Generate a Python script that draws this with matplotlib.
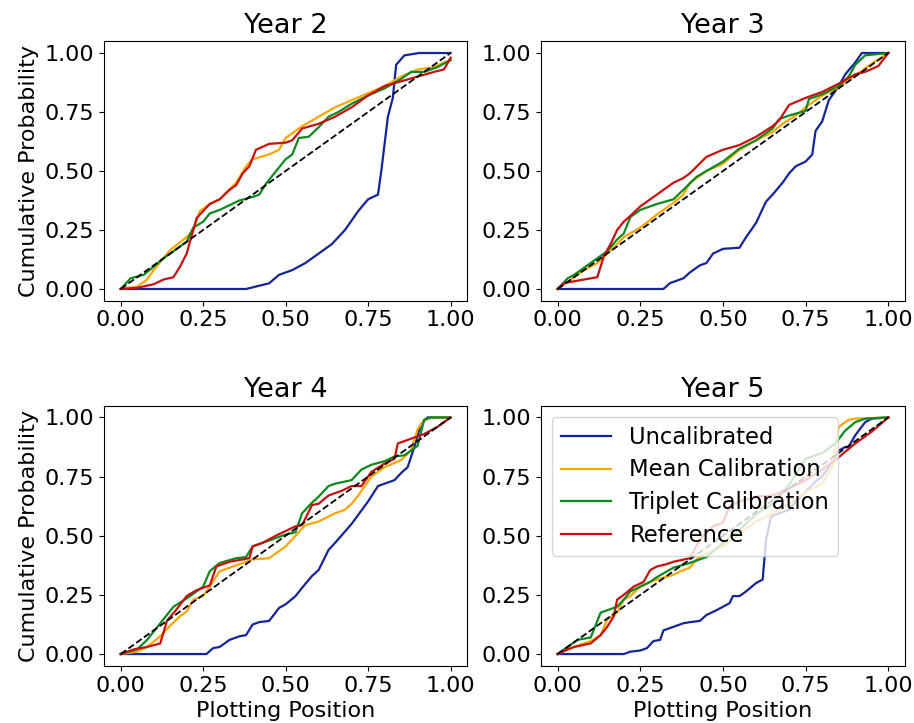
import matplotlib.pyplot as plt

plt.rcParams['font.family'] = ['DejaVu Sans']

# colours of the four curves
c_unc = '#14249a'
c_mean = '#ffa500'
c_trip = '#0a8a1e'
c_ref = '#c81010'

years = ['Year 2', 'Year 3', 'Year 4', 'Year 5']
series_names = ['Uncalibrated', 'Mean Calibration', 'Triplet Calibration', 'Reference']

# ---------------- Year 2 ----------------
y2_unc_x = [0, 0.38, 0.45, 0.48, 0.52, 0.56, 0.60, 0.64, 0.68, 0.72, 0.75, 0.78, 0.79, 0.81, 0.825, 0.835, 0.86, 0.905, 1.0]
y2_unc_y = [0, 0, 0.024, 0.06, 0.08, 0.11, 0.15, 0.19, 0.25, 0.33, 0.38, 0.40, 0.50, 0.73, 0.81, 0.95, 0.99, 1.0, 1.0]
y2_mean_x = [0, 0.05, 0.08, 0.10, 0.15, 0.20, 0.22, 0.24, 0.27, 0.30, 0.35, 0.38, 0.40, 0.45, 0.48, 0.50, 0.55, 0.60, 0.65, 0.70, 0.75, 0.80, 0.85, 0.90, 0.95, 0.98, 1.0]
y2_mean_y = [0, 0.01, 0.04, 0.08, 0.165, 0.22, 0.25, 0.33, 0.36, 0.38, 0.45, 0.52, 0.55, 0.57, 0.59, 0.64, 0.69, 0.73, 0.77, 0.80, 0.83, 0.86, 0.90, 0.93, 0.94, 0.96, 0.97]
y2_trip_x = [0, 0.03, 0.07, 0.10, 0.13, 0.16, 0.20, 0.22, 0.25, 0.27, 0.30, 0.33, 0.36, 0.40, 0.42, 0.44, 0.46, 0.50, 0.52, 0.54, 0.57, 0.60, 0.63, 0.66, 0.70, 0.75, 0.80, 0.85, 0.88, 0.92, 0.96, 1.0]
y2_trip_y = [0, 0.045, 0.06, 0.095, 0.13, 0.16, 0.20, 0.26, 0.285, 0.32, 0.335, 0.355, 0.375, 0.39, 0.40, 0.445, 0.48, 0.55, 0.57, 0.64, 0.645, 0.685, 0.73, 0.75, 0.785, 0.82, 0.85, 0.89, 0.92, 0.92, 0.94, 0.97]
y2_ref_x = [0, 0.05, 0.10, 0.13, 0.16, 0.18, 0.20, 0.22, 0.23, 0.25, 0.27, 0.30, 0.33, 0.35, 0.37, 0.39, 0.41, 0.45, 0.50, 0.52, 0.55, 0.60, 0.65, 0.70, 0.75, 0.80, 0.85, 0.90, 0.95, 0.98, 1.0]
y2_ref_y = [0, 0.005, 0.02, 0.04, 0.05, 0.095, 0.15, 0.25, 0.30, 0.33, 0.36, 0.38, 0.42, 0.44, 0.49, 0.52, 0.59, 0.615, 0.62, 0.63, 0.68, 0.70, 0.73, 0.77, 0.82, 0.86, 0.88, 0.90, 0.92, 0.93, 0.98]

# ---------------- Year 3 ----------------
y3_unc_x = [0, 0.32, 0.34, 0.38, 0.40, 0.43, 0.45, 0.47, 0.50, 0.55, 0.57, 0.60, 0.63, 0.65, 0.68, 0.70, 0.72, 0.75, 0.77, 0.78, 0.80, 0.82, 0.85, 0.87, 0.90, 0.92, 1.0]
y3_unc_y = [0, 0, 0.025, 0.045, 0.07, 0.10, 0.11, 0.15, 0.17, 0.175, 0.22, 0.28, 0.37, 0.40, 0.45, 0.49, 0.52, 0.54, 0.57, 0.67, 0.71, 0.80, 0.86, 0.91, 0.96, 1.0, 1.0]
y3_mean_x = [0, 0.03, 0.08, 0.12, 0.15, 0.18, 0.20, 0.25, 0.30, 0.35, 0.38, 0.40, 0.45, 0.50, 0.55, 0.60, 0.65, 0.68, 0.72, 0.75, 0.80, 0.85, 0.90, 0.95, 1.0]
y3_mean_y = [0, 0.03, 0.08, 0.11, 0.15, 0.19, 0.22, 0.26, 0.315, 0.365, 0.40, 0.45, 0.50, 0.53, 0.59, 0.63, 0.665, 0.70, 0.735, 0.77, 0.82, 0.855, 0.905, 0.955, 1.0]
y3_trip_x = [0, 0.03, 0.05, 0.10, 0.15, 0.18, 0.20, 0.22, 0.25, 0.30, 0.35, 0.38, 0.42, 0.45, 0.50, 0.55, 0.60, 0.65, 0.67, 0.70, 0.75, 0.76, 0.80, 0.85, 0.88, 0.90, 0.93, 1.0]
y3_trip_y = [0, 0.045, 0.06, 0.11, 0.16, 0.21, 0.235, 0.305, 0.335, 0.36, 0.38, 0.42, 0.475, 0.50, 0.54, 0.595, 0.63, 0.68, 0.72, 0.735, 0.755, 0.805, 0.825, 0.86, 0.90, 0.95, 0.99, 1.0]
y3_ref_x = [0, 0.02, 0.10, 0.12, 0.14, 0.16, 0.18, 0.20, 0.22, 0.25, 0.30, 0.33, 0.35, 0.38, 0.40, 0.45, 0.50, 0.55, 0.60, 0.65, 0.67, 0.70, 0.75, 0.80, 0.85, 0.90, 0.93, 0.97, 1.0]
y3_ref_y = [0, 0.025, 0.045, 0.05, 0.14, 0.19, 0.25, 0.285, 0.31, 0.35, 0.40, 0.43, 0.45, 0.47, 0.49, 0.56, 0.59, 0.61, 0.645, 0.69, 0.715, 0.78, 0.81, 0.835, 0.87, 0.91, 0.92, 0.945, 1.0]

# ---------------- Year 4 ----------------
y4_unc_x = [0, 0.26, 0.28, 0.30, 0.33, 0.36, 0.38, 0.40, 0.42, 0.45, 0.48, 0.50, 0.53, 0.55, 0.58, 0.60, 0.63, 0.65, 0.70, 0.75, 0.78, 0.80, 0.83, 0.85, 0.87, 0.89, 0.91, 0.93, 1.0]
y4_unc_y = [0, 0, 0.025, 0.03, 0.06, 0.075, 0.08, 0.125, 0.135, 0.14, 0.195, 0.21, 0.245, 0.28, 0.33, 0.355, 0.44, 0.47, 0.55, 0.645, 0.71, 0.72, 0.735, 0.765, 0.79, 0.875, 0.97, 1.0, 1.0]
y4_mean_x = [0, 0.05, 0.08, 0.12, 0.15, 0.18, 0.20, 0.22, 0.25, 0.27, 0.30, 0.35, 0.40, 0.45, 0.48, 0.50, 0.53, 0.56, 0.60, 0.65, 0.68, 0.70, 0.72, 0.74, 0.76, 0.80, 0.85, 0.88, 0.90, 0.92, 0.95, 1.0]
y4_mean_y = [0, 0.01, 0.03, 0.075, 0.12, 0.16, 0.18, 0.23, 0.245, 0.285, 0.35, 0.375, 0.40, 0.405, 0.435, 0.455, 0.50, 0.545, 0.56, 0.595, 0.61, 0.635, 0.67, 0.71, 0.75, 0.79, 0.82, 0.86, 0.95, 0.99, 1.0, 1.0]
y4_trip_x = [0, 0.05, 0.08, 0.12, 0.16, 0.20, 0.25, 0.27, 0.30, 0.35, 0.38, 0.40, 0.45, 0.50, 0.53, 0.55, 0.58, 0.60, 0.63, 0.65, 0.70, 0.73, 0.76, 0.80, 0.83, 0.86, 0.88, 0.90, 0.92, 0.94, 1.0]
y4_trip_y = [0, 0.02, 0.06, 0.13, 0.20, 0.235, 0.285, 0.35, 0.385, 0.405, 0.41, 0.455, 0.48, 0.505, 0.515, 0.595, 0.64, 0.665, 0.71, 0.72, 0.735, 0.78, 0.80, 0.815, 0.835, 0.84, 0.86, 0.88, 0.99, 1.0, 1.0]
y4_ref_x = [0, 0.04, 0.08, 0.12, 0.14, 0.17, 0.20, 0.23, 0.27, 0.29, 0.33, 0.39, 0.40, 0.43, 0.47, 0.50, 0.53, 0.55, 0.58, 0.60, 0.63, 0.67, 0.70, 0.73, 0.76, 0.80, 0.83, 0.84, 0.88, 0.92, 0.96, 1.0]
y4_ref_y = [0, 0.02, 0.03, 0.045, 0.14, 0.19, 0.245, 0.27, 0.29, 0.37, 0.39, 0.405, 0.455, 0.47, 0.50, 0.52, 0.54, 0.545, 0.63, 0.635, 0.67, 0.69, 0.71, 0.71, 0.77, 0.805, 0.825, 0.89, 0.91, 0.93, 0.96, 1.0]

# ---------------- Year 5 ----------------
y5_unc_x = [0, 0.20, 0.22, 0.25, 0.27, 0.29, 0.31, 0.32, 0.35, 0.38, 0.40, 0.43, 0.45, 0.48, 0.50, 0.52, 0.53, 0.55, 0.57, 0.60, 0.62, 0.63, 0.645, 0.66, 0.70, 0.72, 0.75, 0.78, 0.80, 0.82, 0.85, 0.87, 0.88, 0.90, 0.93, 0.95, 1.0]
y5_unc_y = [0, 0, 0.01, 0.015, 0.025, 0.055, 0.06, 0.10, 0.115, 0.13, 0.135, 0.14, 0.165, 0.185, 0.20, 0.215, 0.245, 0.245, 0.265, 0.30, 0.315, 0.48, 0.58, 0.59, 0.61, 0.645, 0.685, 0.73, 0.75, 0.79, 0.86, 0.875, 0.875, 0.925, 0.98, 0.995, 1.0]
y5_mean_x = [0, 0.05, 0.10, 0.13, 0.15, 0.18, 0.20, 0.22, 0.25, 0.28, 0.30, 0.35, 0.38, 0.40, 0.42, 0.45, 0.50, 0.55, 0.60, 0.65, 0.70, 0.75, 0.80, 0.83, 0.85, 0.88, 0.90, 1.0]
y5_mean_y = [0, 0.03, 0.055, 0.08, 0.145, 0.175, 0.23, 0.245, 0.285, 0.305, 0.315, 0.335, 0.355, 0.365, 0.40, 0.425, 0.455, 0.51, 0.56, 0.595, 0.635, 0.685, 0.72, 0.79, 0.96, 0.99, 0.995, 1.0]
y5_trip_x = [0, 0.04, 0.06, 0.10, 0.13, 0.16, 0.18, 0.20, 0.22, 0.25, 0.28, 0.30, 0.35, 0.40, 0.45, 0.50, 0.55, 0.60, 0.65, 0.70, 0.75, 0.80, 0.84, 0.87, 0.90, 0.93, 1.0]
y5_trip_y = [0, 0.04, 0.06, 0.07, 0.175, 0.19, 0.20, 0.23, 0.265, 0.285, 0.305, 0.325, 0.365, 0.385, 0.41, 0.47, 0.525, 0.59, 0.635, 0.715, 0.825, 0.85, 0.89, 0.945, 0.98, 0.995, 1.0]
y5_ref_x = [0, 0.03, 0.05, 0.10, 0.13, 0.15, 0.17, 0.18, 0.20, 0.23, 0.26, 0.28, 0.30, 0.33, 0.35, 0.40, 0.43, 0.47, 0.50, 0.52, 0.55, 0.60, 0.65, 0.70, 0.75, 0.80, 0.84, 0.87, 0.90, 0.95, 1.0]
y5_ref_y = [0, 0.02, 0.03, 0.045, 0.08, 0.115, 0.16, 0.23, 0.25, 0.285, 0.305, 0.355, 0.37, 0.38, 0.39, 0.405, 0.485, 0.54, 0.555, 0.625, 0.645, 0.665, 0.67, 0.70, 0.735, 0.78, 0.82, 0.855, 0.89, 0.94, 1.0]

panels = [
    [(y2_unc_x, y2_unc_y), (y2_mean_x, y2_mean_y), (y2_trip_x, y2_trip_y), (y2_ref_x, y2_ref_y)],
    [(y3_unc_x, y3_unc_y), (y3_mean_x, y3_mean_y), (y3_trip_x, y3_trip_y), (y3_ref_x, y3_ref_y)],
    [(y4_unc_x, y4_unc_y), (y4_mean_x, y4_mean_y), (y4_trip_x, y4_trip_y), (y4_ref_x, y4_ref_y)],
    [(y5_unc_x, y5_unc_y), (y5_mean_x, y5_mean_y), (y5_trip_x, y5_trip_y), (y5_ref_x, y5_ref_y)],
]
colors = [c_unc, c_mean, c_trip, c_ref]

fig = plt.figure(figsize=(9.14, 7.23), dpi=100)

# axes rectangles (left, bottom, width, height)
boxes = [
    [0.114, 0.584, 0.397, 0.359],
    [0.592, 0.584, 0.398, 0.359],
    [0.114, 0.079, 0.397, 0.360],
    [0.592, 0.079, 0.398, 0.360],
]

fs = 16
for i, (title, curves, box) in enumerate(zip(years, panels, boxes)):
    ax = fig.add_axes(box)
    for (xs, ys), col, name in zip(curves, colors, series_names):
        ax.plot(xs, ys, color=col, lw=1.6, label=name)
    ax.plot([0, 1], [0, 1], 'k--', lw=1.3)
    ax.set_title(title, fontsize=19.5)
    ax.set_xticks([0, 0.25, 0.5, 0.75, 1.0])
    ax.set_yticks([0, 0.25, 0.5, 0.75, 1.0])
    ax.tick_params(labelsize=fs)
    ax.set_xlim(-0.05, 1.05)
    ax.set_ylim(-0.05, 1.05)
    if i % 2 == 0:
        ax.set_ylabel('Cumulative Probability', fontsize=fs)
    if i >= 2:
        ax.set_xlabel('Plotting Position', fontsize=fs)
    if i == 3:
        ax.legend(loc='upper left', fontsize=16.3, handlelength=2.2,
                  labelspacing=0.42)

plt.savefig('out.png', dpi=100)
